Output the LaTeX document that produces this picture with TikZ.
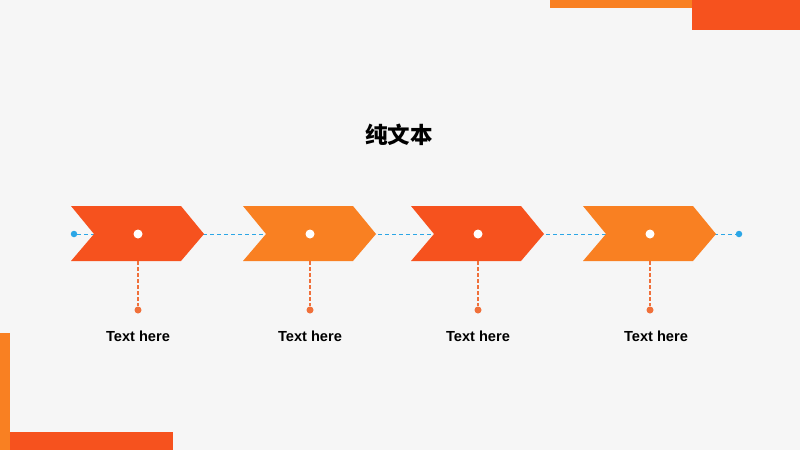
\documentclass[tikz,border=0pt]{standalone}
\usepackage{fontspec}
\setmainfont{Liberation Sans}
\newfontfamily\cjk{Noto Sans CJK SC}
\definecolor{bg}{HTML}{F6F6F6}
\definecolor{cred}{HTML}{F6521E}
\definecolor{corange}{HTML}{F98022}
\definecolor{cblue}{HTML}{2BA6E6}
\definecolor{cstem}{HTML}{F0703A}
\begin{document}
\begin{tikzpicture}[x=1pt,y=-1pt,
  chev/.style={fill=#1,draw=none},
  hole/.style={circle,fill=white,inner sep=0pt,minimum size=9pt},
  bdot/.style={circle,fill=cblue,inner sep=0pt,minimum size=6.5pt},
  sdot/.style={circle,fill=cstem,inner sep=0pt,minimum size=7pt},
  stem/.style={draw=cstem,dash pattern=on 3.5pt off 2.5pt,line width=1.2pt},
  link/.style={draw=cblue,dash pattern=on 4pt off 3pt,line width=0.9pt},
  lbl/.style={font=\bfseries\fontsize{14.6}{16}\selectfont,text=black,inner sep=0pt}]
\fill[bg] (0,0) rectangle (800,450);
\useasboundingbox (0,0) rectangle (800,450);
% corner decorations
\fill[corange] (550,0) rectangle (693,8);
\fill[cred] (692,0) rectangle (800,30);
\fill[corange] (0,333) rectangle (10,450);
\fill[cred] (10,432) rectangle (173,450);
% title
\node[font=\cjk\bfseries\fontsize{22.5}{26}\selectfont,inner sep=0pt] (title) at (399,135) {纯文本};
% blue link line
\node[bdot] (ls) at (74,234) {};
\node[bdot] (le) at (739,234) {};
\draw[link] (ls) -- (le);
% chevrons
\foreach \i/\x/\c/\tx in {1/71/cred/138,2/243/corange/310,3/411/cred/478,4/583/corange/656}{
  \fill[chev=\c] (\x,206) -- (\x+110,206) -- (\x+133,234) -- (\x+110,261) -- (\x,261) -- (\x+23,234) -- cycle;
  \node[hole] (h\i) at (\x+67,234) {};
  \coordinate (b\i) at (\x+67,261);
  \node[sdot] (d\i) at (\x+67,310) {};
  \draw[stem] (b\i) -- (d\i);
  \node[lbl] (t\i) at (\tx,336) {Text here};
}
\end{tikzpicture}
\end{document}
